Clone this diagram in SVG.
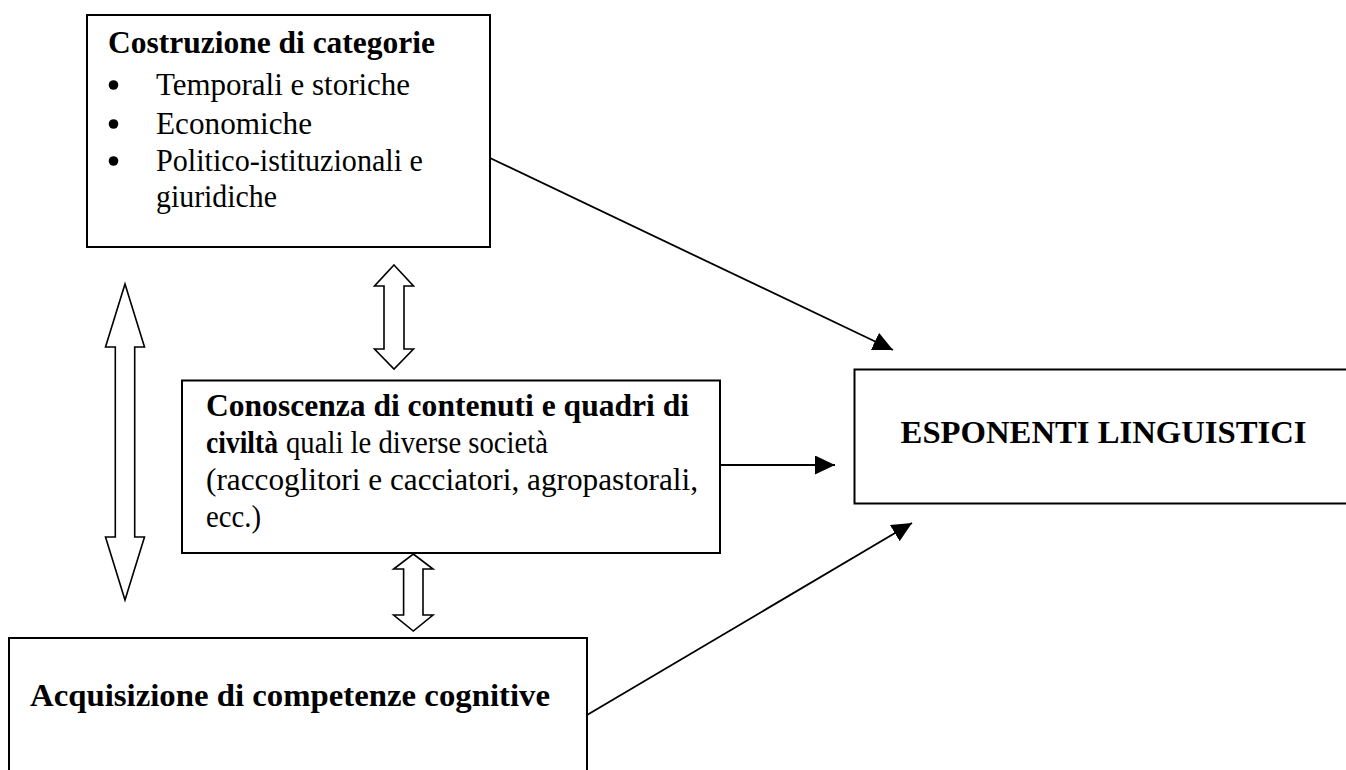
<svg xmlns="http://www.w3.org/2000/svg" width="1346" height="770" viewBox="0 0 1346 770">
<style>
.box{fill:#fff;stroke:#000;stroke-width:2}
.t{font-family:"Liberation Serif","DejaVu Serif",serif;font-size:31px;fill:#000}
.b{font-weight:bold}
.conn{fill:none;stroke:#000;stroke-width:1.8}
.dbl{fill:#fff;stroke:#000;stroke-width:1.6;stroke-linejoin:miter}
</style>
<defs>
<marker id="ah" markerUnits="userSpaceOnUse" markerWidth="22" markerHeight="20" refX="20" refY="9.5" orient="auto">
<path d="M0,0 L20,9.5 L0,19 Z" fill="#000"/>
</marker>
</defs>
<rect width="1346" height="770" fill="#fff"/>

<g id="connectors">
<path class="conn" d="M490,158 L893,350" marker-end="url(#ah)"/>
<path class="conn" d="M720,465 L835,465" marker-end="url(#ah)"/>
<path class="conn" d="M587,715 L912,523" marker-end="url(#ah)"/>
<polygon class="dbl" points="125,284 144.5,347 134.7,347 134.7,537 144.5,537 125,600 105.5,537 115.3,537 115.3,347 105.5,347"/>
<polygon class="dbl" points="394,265 413.5,286 404,286 404,349 413.5,349 394,369 374.5,349 384,349 384,286 374.5,286"/>
<polygon class="dbl" points="413.3,554 433,569 423,569 423,615 433,615 413.3,631 393.6,615 403.6,615 403.6,569 393.6,569"/>
</g>

<g id="node-costruzione">
<rect class="box" x="87" y="15" width="403" height="232"/>
<text class="t b" x="108" y="53" textLength="327" lengthAdjust="spacingAndGlyphs">Costruzione di categorie</text>
<circle cx="113.5" cy="85" r="4.8"/>
<circle cx="113.5" cy="124" r="4.8"/>
<circle cx="113.5" cy="161" r="4.8"/>
<text class="t" x="156" y="95" textLength="254" lengthAdjust="spacingAndGlyphs">Temporali e storiche</text>
<text class="t" x="156" y="134" textLength="156" lengthAdjust="spacingAndGlyphs">Economiche</text>
<text class="t" x="156" y="171" textLength="267" lengthAdjust="spacingAndGlyphs">Politico-istituzionali e</text>
<text class="t" x="156" y="207" textLength="121" lengthAdjust="spacingAndGlyphs">giuridiche</text>
</g>

<g id="node-conoscenza">
<rect class="box" x="182" y="380.5" width="538" height="172.5"/>
<text class="t b" x="206" y="416" textLength="483" lengthAdjust="spacingAndGlyphs">Conoscenza di contenuti e quadri di</text>
<text class="t b" x="206" y="453" textLength="72" lengthAdjust="spacingAndGlyphs">civiltà</text>
<text class="t" x="286" y="453" textLength="262" lengthAdjust="spacingAndGlyphs">quali le diverse società</text>
<text class="t" x="206" y="490" textLength="492" lengthAdjust="spacingAndGlyphs">(raccoglitori e cacciatori, agropastorali,</text>
<text class="t" x="206" y="527" textLength="55" lengthAdjust="spacingAndGlyphs">ecc.)</text>
</g>

<g id="node-esponenti">
<rect class="box" x="854.5" y="369.5" width="500" height="134"/>
<text class="t b" x="900.6" y="443" style="font-size:32px" textLength="406" lengthAdjust="spacingAndGlyphs">ESPONENTI LINGUISTICI</text>
</g>

<g id="node-acquisizione">
<rect class="box" x="9" y="638" width="578" height="140"/>
<text class="t b" x="30" y="706" style="font-size:32px" textLength="520" lengthAdjust="spacingAndGlyphs">Acquisizione di competenze cognitive</text>
</g>
</svg>
